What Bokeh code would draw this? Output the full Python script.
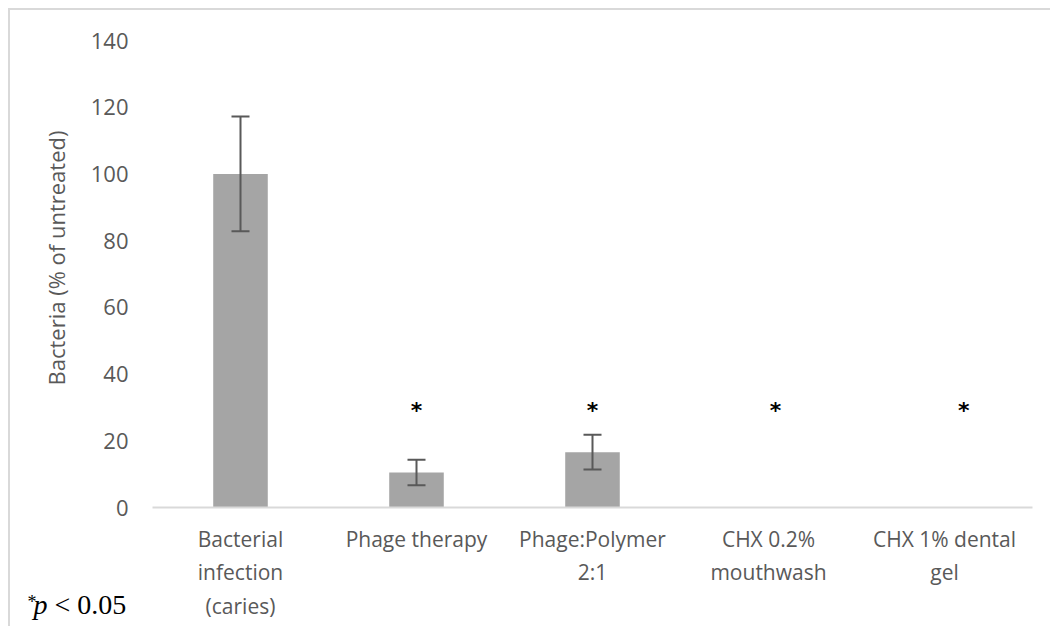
from bokeh.plotting import figure
from bokeh.models import ColumnDataSource, Whisker, FixedTicker, Title, TeeHead
from bokeh.embed import file_html
from bokeh.resources import INLINE
from bokeh.core.properties import value

# ---- data ----
categories = ["Bacterial\ninfection\n(caries)", "Phage therapy", "Phage:Polymer\n2:1",
              "CHX 0.2%\nmouthwash", "CHX 1% dental\ngel"]
means = [100.0, 10.5, 16.6, 0.0, 0.0]
errors = [17.2, 3.8, 5.2, 0.0, 0.0]
star_x = [2, 3, 4.04, 5.11]
star_y = [29, 29, 29, 29]
yticks = [0, 20, 40, 60, 80, 100, 120, 140]
y_title = "Bacteria (% of untreated)"

x = list(range(1, len(categories) + 1))
src = ColumnDataSource(dict(x=x, top=means))
err_src = ColumnDataSource(dict(x=x[:3], upper=[m + e for m, e in zip(means[:3], errors[:3])],
                                lower=[m - e for m, e in zip(means[:3], errors[:3])]))

FONT = "Open Sans"
TXT = "#595959"

p = figure(width=1042, height=618, x_range=(0.5, 5.5), y_range=(0, 140),
           output_backend="svg", toolbar_location=None,
           min_border_left=142, min_border_right=20, min_border_top=30, min_border_bottom=121,
           margin=(8, 0, 0, 8),
           styles={"border-top": "2px solid #d9d9d9", "border-left": "2px solid #d9d9d9"})
p.outline_line_color = None
p.grid.visible = False
p.background_fill_color = "white"
p.border_fill_color = "white"

p.vbar(x="x", top="top", width=0.31, source=src, fill_color="#a5a5a5", line_color=None)

w = Whisker(base="x", upper="upper", lower="lower", source=err_src,
            line_color="#595959", line_width=2, level="overlay",
            upper_head=TeeHead(size=18, line_color="#595959", line_width=2),
            lower_head=TeeHead(size=18, line_color="#595959", line_width=2))
p.add_layout(w)

p.text(x=star_x, y=star_y, text=["*"] * len(star_x), text_align="center",
       text_baseline="middle", text_font=value("DejaVu Sans"), text_font_size="22px",
       text_font_style="bold", text_color="black")

# y axis
p.yaxis.ticker = FixedTicker(ticks=yticks)
p.yaxis.axis_line_color = None
p.yaxis.major_tick_line_color = None
p.yaxis.minor_tick_line_color = None
p.yaxis.major_label_text_font = FONT
p.yaxis.major_label_text_font_size = "22px"
p.yaxis.major_label_text_color = TXT
p.yaxis.major_label_standoff = 18

p.add_layout(Title(text=y_title, align="left", offset=122, standoff=34, vertical_align="bottom",
                   text_font=FONT, text_font_size="22px", text_font_style="normal",
                   text_color=TXT), "left")

# x axis
p.xaxis.ticker = FixedTicker(ticks=x)
p.xaxis.major_label_overrides = {i: c for i, c in zip(x, categories)}
p.xaxis.axis_line_color = "#d9d9d9"
p.xaxis.axis_line_width = 2
p.xaxis.major_tick_line_color = None
p.xaxis.minor_tick_line_color = None
p.xaxis.major_label_text_font = FONT
p.xaxis.major_label_text_font_size = "21px"
p.xaxis.major_label_text_color = TXT
p.xaxis.major_label_standoff = 11

# footnote "*p < 0.05" (p in italics)
p.add_layout(Title(text="*", align="left", offset=-125, standoff=-62, vertical_align="top",
                   text_font="Liberation Serif", text_font_size="18px",
                   text_font_style="normal", text_color="black"), "below")
p.add_layout(Title(text="p", align="left", offset=-119, standoff=-68, vertical_align="top",
                   text_font="Liberation Serif", text_font_size="28px",
                   text_font_style="italic", text_color="black"), "below")
p.add_layout(Title(text="< 0.05", align="left", offset=-98, standoff=-68, vertical_align="top",
                   text_font="Liberation Serif", text_font_size="28px",
                   text_font_style="normal", text_color="black"), "below")

open("out.html", "w").write(file_html(p, INLINE))
